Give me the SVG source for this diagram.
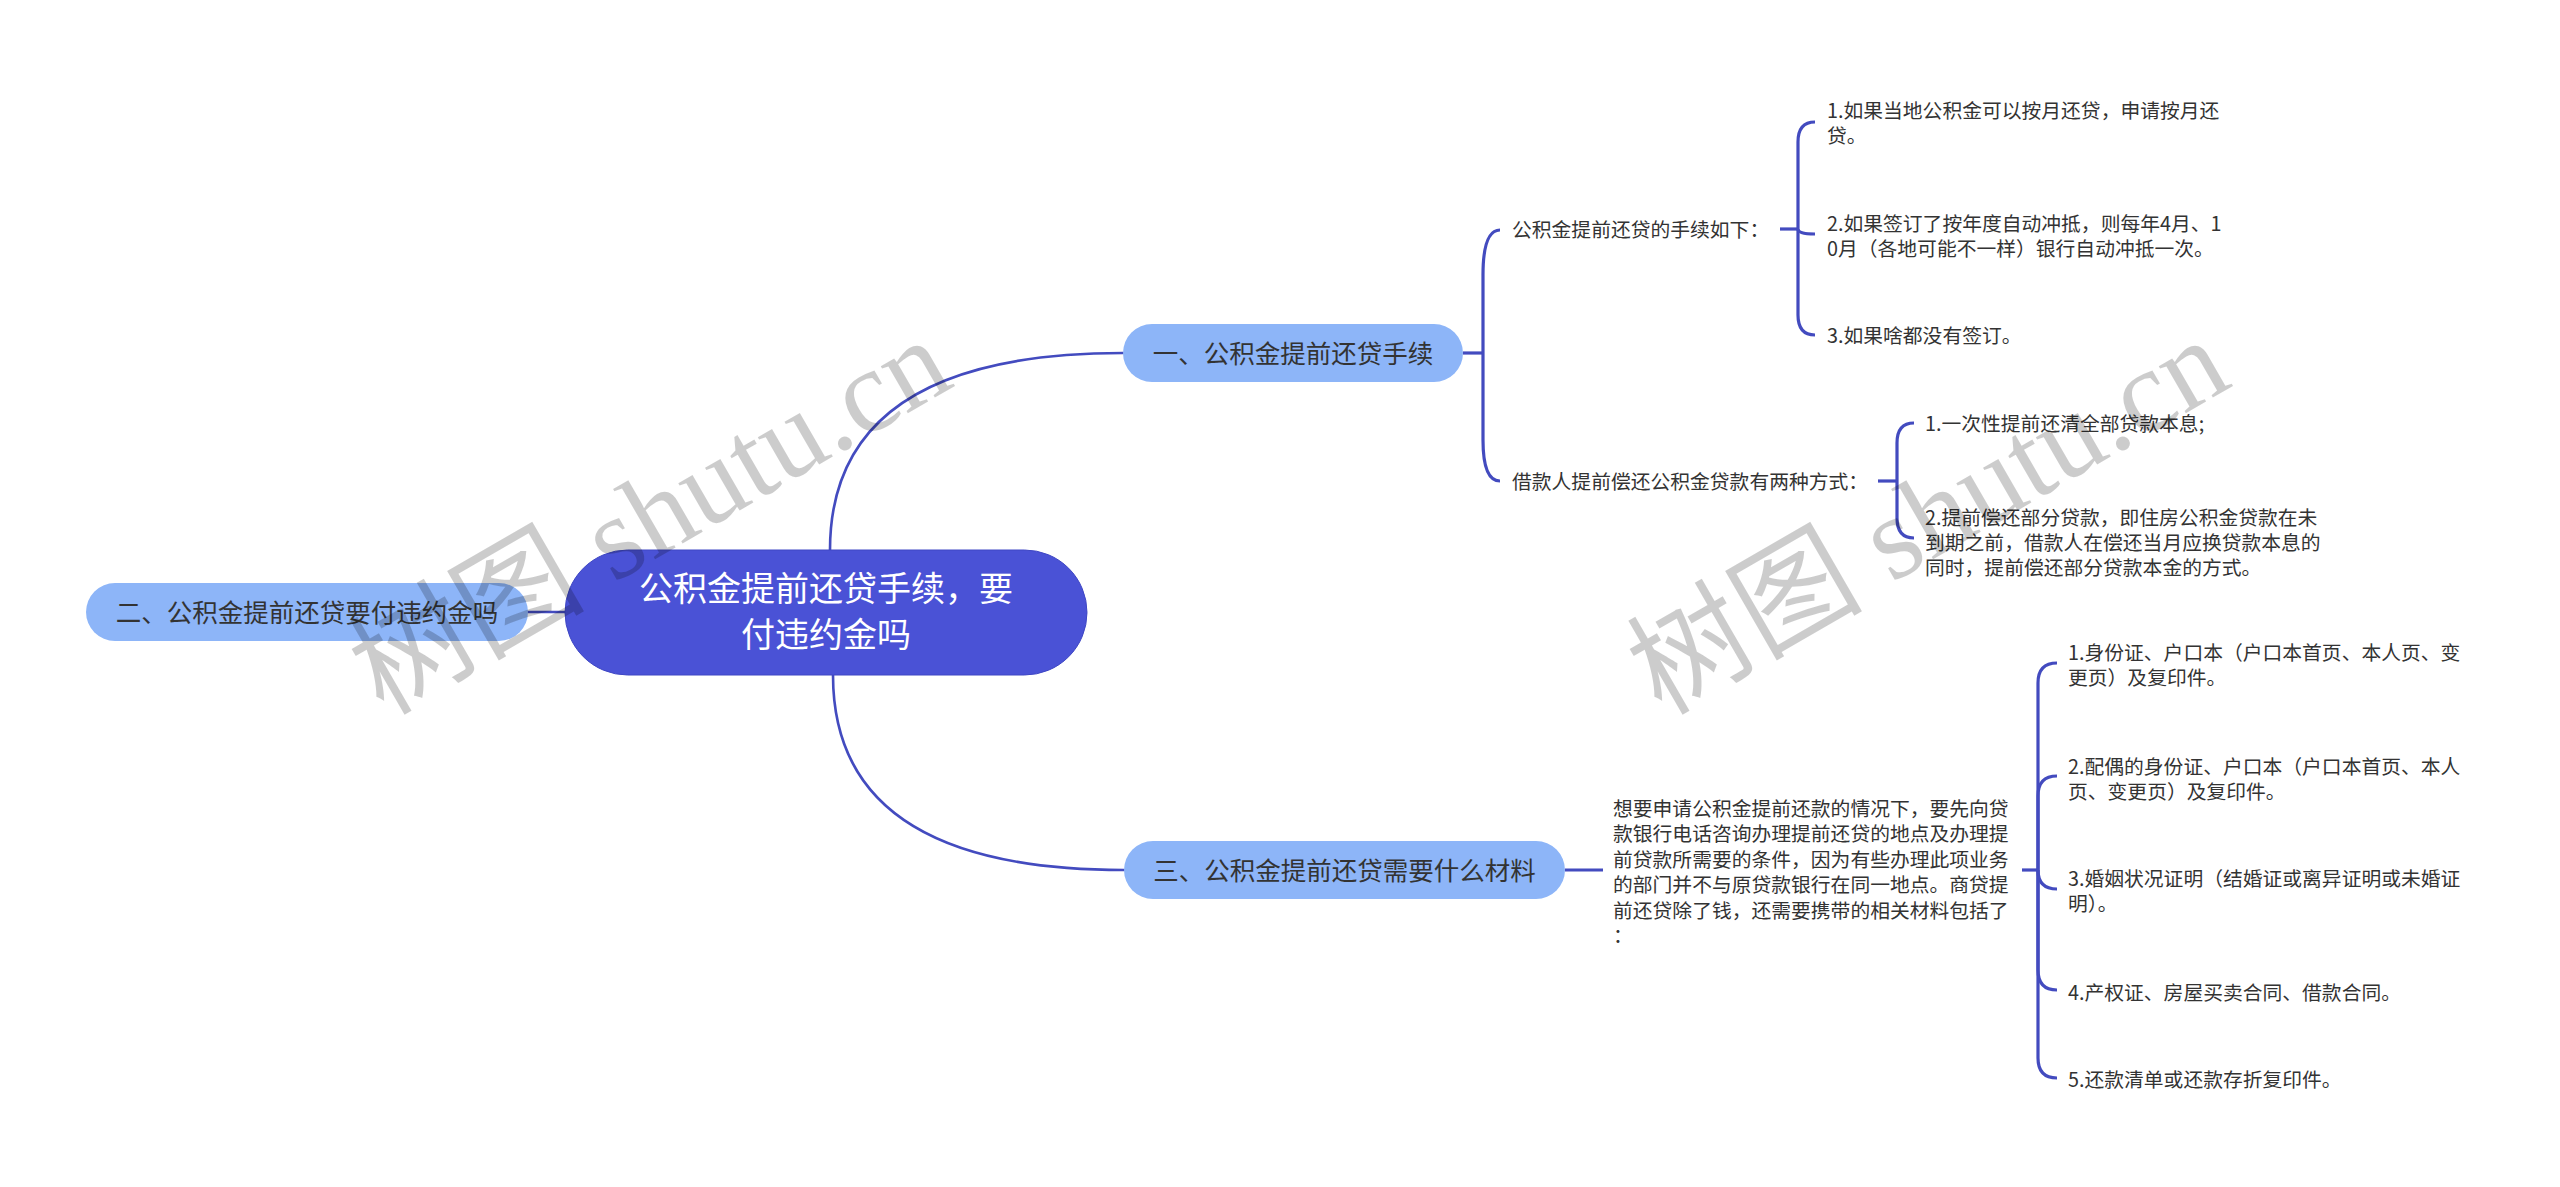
<svg xmlns="http://www.w3.org/2000/svg" width="2560" height="1187" viewBox="0 0 2560 1187">
<style>
.t{font-family:"Noto Sans CJK SC","Noto Sans",sans-serif;fill:#333333}
.s{font-size:19.8px}
.m{font-size:25.5px;text-anchor:middle}
.c{font-size:34px;fill:#ffffff;text-anchor:middle}
.ln{fill:none;stroke:#434bbf;stroke-width:2.6;stroke-linecap:round}
.br{fill:none;stroke:#434bbf;stroke-width:3.2}
.n1{fill:#8db5f8}
.root{fill:#4a52d6;stroke:#3f47c4;stroke-width:1}
.wm{font-family:"Liberation Serif","Noto Sans CJK SC",serif;font-size:118px;fill:#000000;fill-opacity:0.2;text-anchor:middle}
</style>
<rect width="2560" height="1187" fill="#ffffff"/>
<g id="connectors">
  <path class="ln" d="M830 550 Q830 353 1123 353"/>
  <path class="ln" d="M833 675 Q833 870 1124 870"/>
  <path class="ln" d="M528 612 L565 612"/>
  <path class="br" d="M1463 353 L1483 353"/>
  <path class="br" d="M1483 353 L1483 275 Q1483 230 1500 230"/>
  <path class="br" d="M1483 353 L1483 440 Q1483 481 1500 481"/>
  <path class="br" d="M1780 229 L1798 229"/>
  <path class="br" d="M1798 229 L1798 142 Q1798 122 1815 122"/>
  <path class="br" d="M1798 229 Q1798 234 1815 234"/>
  <path class="br" d="M1798 229 L1798 315 Q1798 335 1815 335"/>
  <path class="br" d="M1878 481 L1897 481"/>
  <path class="br" d="M1897 481 L1897 443 Q1897 423 1914 423"/>
  <path class="br" d="M1897 481 L1897 518 Q1897 538 1914 538"/>
  <path class="br" d="M1565 870 L1603 870"/>
  <path class="br" d="M2022 870 L2038 870"/>
  <path class="br" d="M2038 870 L2038 683 Q2038 663 2057 663"/>
  <path class="br" d="M2038 870 L2038 796 Q2038 776 2057 776"/>
  <path class="br" d="M2038 870 Q2038 889 2057 889"/>
  <path class="br" d="M2038 870 L2038 970 Q2038 990 2057 990"/>
  <path class="br" d="M2038 870 L2038 1058 Q2038 1078 2057 1078"/>
</g>
<g id="root">
  <rect class="root" x="565" y="550" width="522" height="125" rx="62.5"/>
  <text class="t c" x="826" y="600.5">公积金提前还贷手续，要</text>
  <text class="t c" x="826" y="647">付违约金吗</text>
</g>
<g id="n1">
  <rect class="n1" x="1123" y="324" width="340" height="58" rx="29"/>
  <text class="t m" x="1293" y="363">一、公积金提前还贷手续</text>
</g>
<g id="n2">
  <rect class="n1" x="86" y="583" width="442" height="58" rx="29"/>
  <text class="t m" x="307" y="622">二、公积金提前还贷要付违约金吗</text>
</g>
<g id="n3">
  <rect class="n1" x="1124" y="841" width="441" height="58" rx="29"/>
  <text class="t m" x="1344.5" y="880">三、公积金提前还贷需要什么材料</text>
</g>
<g id="n1a">
  <text class="t s" x="1512" y="237">公积金提前还贷的手续如下：</text>
</g>
<g id="n1a1">
  <text class="t s" x="1827" y="118">1.如果当地公积金可以按月还贷，申请按月还</text>
  <text class="t s" x="1827" y="143">贷。</text>
</g>
<g id="n1a2">
  <text class="t s" x="1827" y="230.5">2.如果签订了按年度自动冲抵，则每年4月、1</text>
  <text class="t s" x="1827" y="255.5">0月（各地可能不一样）银行自动冲抵一次。</text>
</g>
<g id="n1a3">
  <text class="t s" x="1827" y="343">3.如果啥都没有签订。</text>
</g>
<g id="n1b">
  <text class="t s" x="1512" y="488.5">借款人提前偿还公积金贷款有两种方式：</text>
</g>
<g id="n1b1">
  <text class="t s" x="1925" y="430.5">1.一次性提前还清全部贷款本息;</text>
</g>
<g id="n1b2">
  <text class="t s" x="1925" y="524.5">2.提前偿还部分贷款，即住房公积金贷款在未</text>
  <text class="t s" x="1925" y="549.5">到期之前，借款人在偿还当月应换贷款本息的</text>
  <text class="t s" x="1925" y="574.5">同时，提前偿还部分贷款本金的方式。</text>
</g>
<g id="n3a">
  <text class="t s" x="1613" y="815.5">想要申请公积金提前还款的情况下，要先向贷</text>
  <text class="t s" x="1613" y="841">款银行电话咨询办理提前还贷的地点及办理提</text>
  <text class="t s" x="1613" y="866.5">前贷款所需要的条件，因为有些办理此项业务</text>
  <text class="t s" x="1613" y="892">的部门并不与原贷款银行在同一地点。商贷提</text>
  <text class="t s" x="1613" y="917.5">前还贷除了钱，还需要携带的相关材料包括了</text>
  <text class="t s" x="1613" y="943">：</text>
</g>
<g id="n3a1">
  <text class="t s" x="2068" y="659.5">1.身份证、户口本（户口本首页、本人页、变</text>
  <text class="t s" x="2068" y="684.5">更页）及复印件。</text>
</g>
<g id="n3a2">
  <text class="t s" x="2068" y="773.5">2.配偶的身份证、户口本（户口本首页、本人</text>
  <text class="t s" x="2068" y="798.5">页、变更页）及复印件。</text>
</g>
<g id="n3a3">
  <text class="t s" x="2068" y="885.5">3.婚姻状况证明（结婚证或离异证明或未婚证</text>
  <text class="t s" x="2068" y="910.5">明）。</text>
</g>
<g id="n3a4">
  <text class="t s" x="2068" y="999.5">4.产权证、房屋买卖合同、借款合同。</text>
</g>
<g id="n3a5">
  <text class="t s" x="2068" y="1086.5">5.还款清单或还款存折复印件。</text>
</g>
<g id="watermark">
  <text class="wm" transform="translate(650,516) rotate(-30)" x="0" y="40">树图 shutu.cn</text>
  <text class="wm" transform="translate(1928,516) rotate(-30)" x="0" y="40">树图 shutu.cn</text>
</g>
</svg>
